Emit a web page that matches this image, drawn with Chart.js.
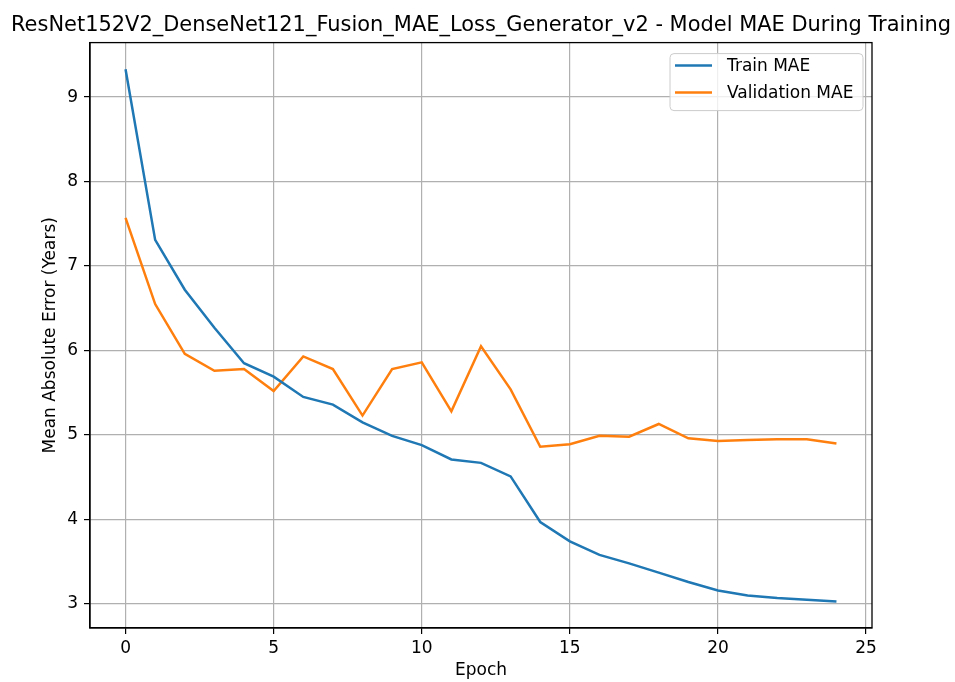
<!DOCTYPE html>
<html>
<head>
<meta charset="utf-8">
<script src="https://cdn.jsdelivr.net/npm/chart.js@4/dist/chart.umd.min.js"></script>
<style>
  html, body { margin: 0; padding: 0; background: #fff; }
  canvas { display: block; }
</style>
</head>
<body>
<canvas id="c" width="955" height="682"></canvas>
<script>
const epochs = [0,1,2,3,4,5,6,7,8,9,10,11,12,13,14,15,16,17,18,19,20,21,22,23,24];
const trainMAE = [9.33,7.31,6.72,6.27,5.85,5.69,5.45,5.36,5.15,4.99,4.88,4.71,4.67,4.51,3.97,3.74,3.58,3.48,3.37,3.26,3.16,3.10,3.07,3.05,3.03];
const valMAE = [7.57,6.55,5.96,5.76,5.78,5.52,5.93,5.78,5.23,5.78,5.86,5.28,6.05,5.54,4.86,4.89,4.99,4.98,5.13,4.96,4.93,4.94,4.95,4.95,4.90];
const xTicks = [0,5,10,15,20,25];
const yTicks = [3,4,5,6,7,8,9];
const seriesNames = ['Train MAE', 'Validation MAE'];
const titleText = 'ResNet152V2_DenseNet121_Fusion_MAE_Loss_Generator_v2 - Model MAE During Training';
const xLabel = 'Epoch';
const yLabel = 'Mean Absolute Error (Years)';

const colors = ['#1f77b4', '#ff7f0e'];
const FONT = "'DejaVu Sans', sans-serif";

const toPoints = (arr) => arr.map((v, i) => ({x: epochs[i], y: v}));

const xPad = (Math.max(...epochs) - Math.min(...epochs)) * 0.05;
const allY = trainMAE.concat(valMAE);
const yMinD = Math.min(...allY), yMaxD = Math.max(...allY);
const yPad = (yMaxD - yMinD) * 0.05;

const frameLegendTitle = {
  id: 'frameLegendTitle',
  afterDatasetsDraw(chart) {
    const {ctx, chartArea: a} = chart;
    ctx.save();
    // full frame (spines)
    ctx.strokeStyle = '#000';
    ctx.lineWidth = 1.3;
    ctx.strokeRect(a.left, a.top, a.right - a.left, a.bottom - a.top);

    // title centred over the axes
    ctx.fillStyle = '#000';
    ctx.font = '21px ' + FONT;
    ctx.textAlign = 'center';
    ctx.textBaseline = 'middle';
    ctx.fillText(titleText, (a.left + a.right) / 2, 26, 940);

    // legend
    const bx = a.right - 202, by = a.top + 11, bw = 193, bh = 57, r = 4;
    ctx.beginPath();
    ctx.moveTo(bx + r, by);
    ctx.lineTo(bx + bw - r, by);
    ctx.quadraticCurveTo(bx + bw, by, bx + bw, by + r);
    ctx.lineTo(bx + bw, by + bh - r);
    ctx.quadraticCurveTo(bx + bw, by + bh, bx + bw - r, by + bh);
    ctx.lineTo(bx + r, by + bh);
    ctx.quadraticCurveTo(bx, by + bh, bx, by + bh - r);
    ctx.lineTo(bx, by + r);
    ctx.quadraticCurveTo(bx, by, bx + r, by);
    ctx.closePath();
    ctx.fillStyle = 'rgba(255,255,255,0.8)';
    ctx.fill();
    ctx.strokeStyle = '#cccccc';
    ctx.lineWidth = 1;
    ctx.stroke();

    ctx.font = '17px ' + FONT;
    ctx.textBaseline = 'middle';
    ctx.textAlign = 'left';
    seriesNames.forEach((name, i) => {
      const ly = by + 12 + i * 27;
      ctx.beginPath();
      ctx.moveTo(bx + 5, ly);
      ctx.lineTo(bx + 42, ly);
      ctx.strokeStyle = colors[i];
      ctx.lineWidth = 2.5;
      ctx.stroke();
      ctx.fillStyle = '#000';
      ctx.fillText(name, bx + 57, ly + 1);
    });
    ctx.restore();
  }
};

new Chart(document.getElementById('c'), {
  type: 'line',
  data: {
    datasets: [
      { label: seriesNames[0], data: toPoints(trainMAE), borderColor: colors[0], backgroundColor: colors[0], borderWidth: 2.5, pointRadius: 0, tension: 0, fill: false },
      { label: seriesNames[1], data: toPoints(valMAE), borderColor: colors[1], backgroundColor: colors[1], borderWidth: 2.5, pointRadius: 0, tension: 0, fill: false }
    ]
  },
  options: {
    responsive: false,
    animation: false,
    layout: { padding: { left: 0, right: 83, top: 42.6, bottom: 0 } },
    plugins: {
      legend: { display: false },
      tooltip: { enabled: false },
      title: { display: false }
    },
    scales: {
      x: {
        type: 'linear',
        min: Math.min(...epochs) - xPad,
        max: Math.max(...epochs) + xPad,
        afterBuildTicks: (s) => { s.ticks = xTicks.map(v => ({value: v})); },
        afterFit: (s) => { s.height = 54; },
        grid: { color: '#b0b0b0', lineWidth: 1.2, drawTicks: true, tickLength: 6, tickColor: '#000', tickWidth: 1.2 },
        border: { display: true, color: '#000', width: 1.3 },
        ticks: { color: '#000', font: { family: FONT, size: 17 }, padding: 4, maxRotation: 0 },
        title: { display: true, text: xLabel, color: '#000', font: { family: FONT, size: 17, lineHeight: 1.2 }, padding: { top: 0, bottom: 1 } }
      },
      y: {
        type: 'linear',
        min: yMinD - yPad,
        max: yMaxD + yPad,
        afterBuildTicks: (s) => { s.ticks = yTicks.map(v => ({value: v})); },
        afterFit: (s) => { s.width = 90; },
        grid: { color: '#b0b0b0', lineWidth: 1.2, drawTicks: true, tickLength: 6, tickColor: '#000', tickWidth: 1.2 },
        border: { display: true, color: '#000', width: 1.3 },
        ticks: { color: '#000', font: { family: FONT, size: 17 }, padding: 6 },
        title: { display: true, text: yLabel, color: '#000', font: { family: FONT, size: 17, lineHeight: 1.2 }, padding: { top: 40, bottom: 0 } }
      }
    }
  },
  plugins: [frameLegendTitle]
});
</script>
</body>
</html>
